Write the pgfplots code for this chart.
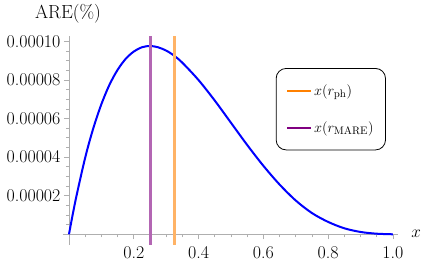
\documentclass[border=0pt]{standalone}
\usepackage{pgfplots}
\pgfplotsset{compat=1.18}
\definecolor{curveblue}{RGB}{0,0,255}
\definecolor{orangeL}{RGB}{255,179,102}
\definecolor{orangeD}{RGB}{255,128,0}
\definecolor{purpleL}{RGB}{179,102,179}
\definecolor{purpleD}{RGB}{128,0,128}
\definecolor{axisgray}{RGB}{175,175,175}
\begin{document}
\begin{tikzpicture}
\path[use as bounding box] (0,0) rectangle (424bp,263bp);
\begin{axis}[
  at={(62.5bp,18.1bp)}, anchor=south west,
  scale only axis, width=335.3bp, height=208.8bp,
  xmin=-0.02, xmax=1.015, ymin=-0.55e-5, ymax=10.27e-5,
  axis lines=middle,
  axis line style={-, axisgray, line width=0.8bp},
  tick style={axisgray, line width=0.6bp},
  tick align=outside,
  major tick length=5bp, minor tick length=3bp,
  minor tick num=3,
  xtick={0,0.2,0.4,0.6,0.8,1.0}, xticklabels={,0.2,0.4,0.6,0.8,1.0},
  ytick={0,2e-5,4e-5,6e-5,8e-5,10e-5},
  yticklabels={,0.00002,0.00004,0.00006,0.00008,0.00010},
  scaled y ticks=false,
  tick label style={font=\fontsize{18}{20}\selectfont},
  xticklabel style={yshift=-4bp},
  xlabel={$x$}, ylabel={ARE(\%)},
  xlabel style={at={(current axis.right of origin)}, anchor=west, xshift=10bp, font=\fontsize{19}{21}\selectfont},
  ylabel style={at={(current axis.above origin)}, anchor=south, yshift=9bp, xshift=-1bp, font=\fontsize{19}{21}\selectfont},
  clip=false,
  legend style={at={(0.636,0.847)}, anchor=north west, draw=black, line width=0.8bp,
    rounded corners=10bp, font=\fontsize{15}{17}\selectfont,
    inner xsep=10bp, inner ysep=14bp, row sep=21bp, cells={anchor=west}},
  legend image code/.code={\draw[#1] (0bp,0bp) -- (24bp,0bp);},
]
\addplot[curveblue, line width=2bp, smooth, forget plot] coordinates {
(0,0) (0.02,1.74e-5) (0.05,3.97e-5) (0.075,5.49e-5) (0.1,6.74e-5)
(0.125,7.75e-5) (0.15,8.52e-5) (0.175,9.09e-5) (0.2,9.47e-5)
(0.225,9.69e-5) (0.25,9.76e-5) (0.275,9.69e-5) (0.3,9.52e-5)
(0.325,9.25e-5) (0.35,8.89e-5) (0.4,7.99e-5) (0.45,6.93e-5)
(0.5,5.78e-5) (0.55,4.63e-5) (0.6,3.55e-5) (0.65,2.58e-5)
(0.7,1.75e-5) (0.75,1.10e-5) (0.8,0.64e-5) (0.85,0.31e-5)
(0.9,0.12e-5) (0.95,0.03e-5) (1.0,0)
};
\addplot[orangeL, line width=3bp, legend image post style={draw=orangeD, line width=2bp}]
  coordinates {(0.327,-0.55e-5) (0.327,10.27e-5)};
\addlegendentry{$x(r_{\mathrm{ph}})$}
\addplot[purpleL, line width=3bp, legend image post style={draw=purpleD, line width=2bp}]
  coordinates {(0.252,-0.55e-5) (0.252,10.27e-5)};
\addlegendentry{$x(r_{\mathrm{MARE}})$}
\end{axis}
\end{tikzpicture}
\end{document}
